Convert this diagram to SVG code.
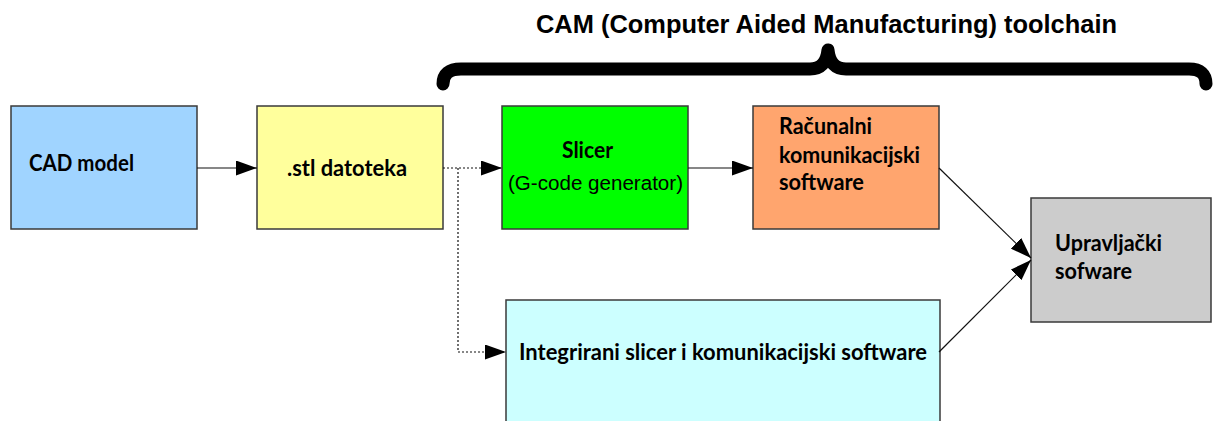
<svg xmlns="http://www.w3.org/2000/svg" width="1214" height="421" viewBox="0 0 1214 421">
<style>
.box{stroke:#3a3a3a;stroke-width:1.5}
.lbl{font-family:Lato,"Liberation Sans",sans-serif;font-weight:bold;font-size:22px;fill:#000}
.reg{font-family:"Liberation Sans",Arial,sans-serif;font-size:20px;fill:#000}
.title{font-family:"Liberation Sans",Arial,sans-serif;font-weight:bold;font-size:25px;fill:#000}
.con{stroke:#111;stroke-width:1.2;fill:none}
.dot{stroke-dasharray:2 2}
</style>
<defs>
<marker id="ah" markerUnits="userSpaceOnUse" markerWidth="21" markerHeight="15" refX="21" refY="7.5" orient="auto">
<path d="M0,0 L21,7.5 L0,15 z" fill="#000"/>
</marker>
</defs>
<rect width="1214" height="421" fill="#fff"/>
<g id="title">
<text class="title" x="536" y="33" textLength="581" lengthAdjust="spacingAndGlyphs">CAM (Computer Aided Manufacturing) toolchain</text>
<path d="M443,84 Q443,69 461,69 L810,69 Q826,69 828,50 Q830,69 846,69 L1189,69 Q1206,69 1206,84" fill="none" stroke="#000" stroke-width="13" stroke-linecap="round" stroke-linejoin="round"/>
</g>
<g id="node-cad">
<rect class="box" x="11" y="106" width="186" height="123" fill="#a0d4ff"/>
<text class="lbl" x="29" y="171" textLength="105" lengthAdjust="spacingAndGlyphs">CAD model</text>
</g>
<g id="node-stl">
<rect class="box" x="257" y="106" width="186" height="123" fill="#ffff9c"/>
<text class="lbl" x="287" y="176" textLength="120" lengthAdjust="spacingAndGlyphs">.stl datoteka</text>
</g>
<g id="node-slicer">
<rect class="box" x="502" y="106" width="186" height="123" fill="#00ff00"/>
<text class="lbl" x="562" y="158" textLength="51" lengthAdjust="spacingAndGlyphs">Slicer</text>
<text class="reg" x="508" y="190" textLength="175" lengthAdjust="spacingAndGlyphs">(G-code generator)</text>
</g>
<g id="node-racunalni">
<rect class="box" x="753" y="106" width="186" height="123" fill="#ffa56e"/>
<text class="lbl" x="779" y="134" textLength="93" lengthAdjust="spacingAndGlyphs">Računalni</text>
<text class="lbl" x="779" y="163" textLength="141" lengthAdjust="spacingAndGlyphs">komunikacijski</text>
<text class="lbl" x="779" y="190" textLength="85" lengthAdjust="spacingAndGlyphs">software</text>
</g>
<g id="node-integrirani">
<rect class="box" x="506" y="300" width="434" height="130" fill="#ccffff"/>
<text class="lbl" x="519" y="360" textLength="408" lengthAdjust="spacingAndGlyphs">Integrirani slicer i komunikacijski software</text>
</g>
<g id="node-upravljacki">
<rect class="box" x="1031" y="198" width="180" height="124" fill="#cccccc"/>
<text class="lbl" x="1055" y="251" textLength="107" lengthAdjust="spacingAndGlyphs">Upravljački</text>
<text class="lbl" x="1055" y="279" textLength="77" lengthAdjust="spacingAndGlyphs">sofware</text>
</g>
<g id="connectors">
<line class="con" x1="197" y1="168" x2="257" y2="168" marker-end="url(#ah)"/>
<line class="con dot" x1="443" y1="168" x2="502" y2="168" marker-end="url(#ah)"/>
<polyline class="con dot" points="458,168 458,352 506,352" marker-end="url(#ah)"/>
<line class="con" x1="688" y1="168" x2="753" y2="168" marker-end="url(#ah)"/>
<line class="con" x1="939" y1="168" x2="1031" y2="258" marker-end="url(#ah)"/>
<line class="con" x1="939" y1="352" x2="1031" y2="260" marker-end="url(#ah)"/>
</g>
</svg>
